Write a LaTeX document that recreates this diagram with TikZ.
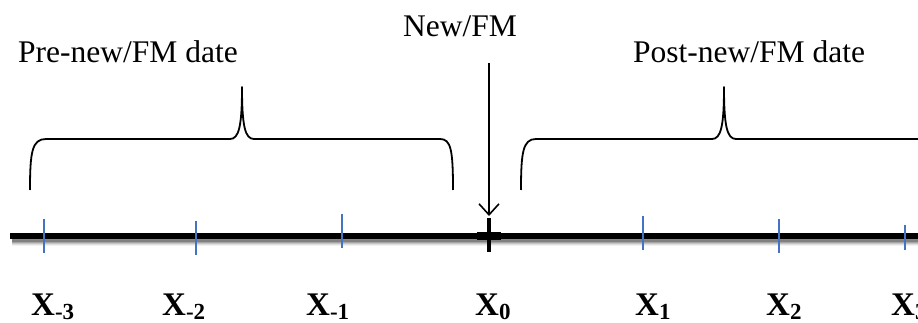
\documentclass[tikz,border=0pt]{standalone}
\usepackage{fontspec}
\setmainfont{Liberation Serif}
\usetikzlibrary{arrows.meta}
\definecolor{tickblue}{RGB}{68,114,196}
\newcommand{\xsub}[1]{\raisebox{-4pt}{\fontsize{23}{24}\selectfont #1}}
\tikzset{
  txt/.style={anchor=base west, inner sep=0pt, font=\fontsize{31.5}{36}\selectfont},
  xlab/.style={anchor=base west, inner sep=0pt, font=\fontsize{33}{36}\selectfont\bfseries},
  brace/.style={line width=1.8pt, line join=round},
  bluetick/.style={draw=tickblue, line width=2.4pt},
  thintick/.style={draw=tickblue, line width=1.5pt},
}
\begin{document}
\begin{tikzpicture}[x=1pt,y=-1pt]
\useasboundingbox (0,0) rectangle (918,323);
% main line with soft shadow
\foreach \d/\o in {7/0.05,6/0.08,5/0.12,4/0.16,3/0.22}
  \draw[line width=6pt, black, opacity=\o] (12,236+\d) -- (918,236+\d);
\draw[line width=6pt] (10,236) -- (918,236);
\draw[line width=7.5pt] (477,236) -- (501,236);
% ticks
\draw[bluetick] (44,219) -- (44,253);
\draw[thintick] (196,221) -- (196,255);
\draw[bluetick] (342,214) -- (342,248);
\draw[thintick] (643,216) -- (643,250);
\draw[bluetick] (779,219) -- (779,253);
\draw[bluetick] (905,225) -- (905,250);
\coordinate (t0top) at (489,216);
\draw[line width=4pt] (489,218) -- (489,252);
% braces
\draw[brace] (30,190) .. controls (30,152) and (32,139) .. (46,139) -- (230,139)
  .. controls (239,139) and (242,126) .. (242,87)
  .. controls (242,126) and (245,139) .. (254,139) -- (440,139)
  .. controls (451,139) and (453,150) .. (453,190);
\draw[brace] (521,190) .. controls (521,152) and (523,139) .. (536,139) -- (712,139)
  .. controls (721,139) and (724,126) .. (724,87)
  .. controls (724,126) and (727,139) .. (736,139) -- (930,139);
% texts
\node[txt] (pre) at (18,63) {Pre-new/FM date};
\node[txt] (new) at (403,37) {New/FM};
\node[txt] (post) at (633,63) {Post-new/FM date};
\coordinate (arrstart) at (489,63);
\draw[line width=1.8pt, -{Straight Barb[length=11pt,width=20pt,line width=1.6pt]}] (arrstart) -- (t0top);
% labels
\node[xlab] (xm3) at (31,315) {X\xsub{-3}};
\node[xlab] (xm2) at (162,315) {X\xsub{-2}};
\node[xlab] (xm1) at (306,315) {X\xsub{-1}};
\node[xlab] (x0) at (475,315) {X\xsub{0}};
\node[xlab] (x1) at (635,315) {X\xsub{1}};
\node[xlab] (x2) at (766,315) {X\xsub{2}};
\node[xlab] (x3) at (891,315) {X\xsub{3}};
\end{tikzpicture}
\end{document}
